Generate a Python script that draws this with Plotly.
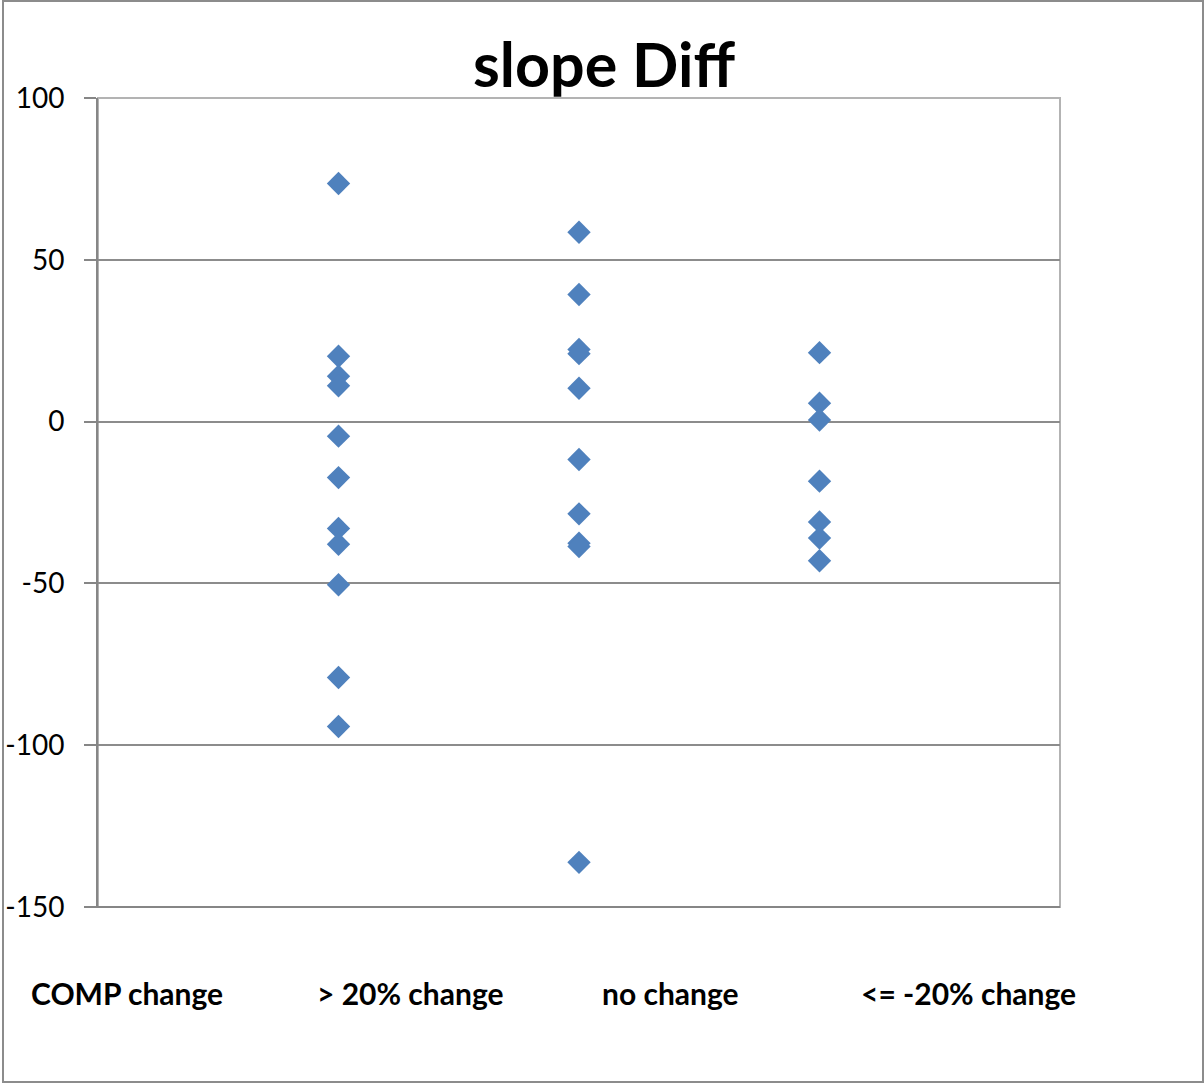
import plotly.graph_objects as go

# slope differences per group (x position 1, 2, 3 on a 0-4 axis)
over_20_change = [73.6, 20.2, 14.0, 11.1, -4.5, -17.3, -33.0, -37.9, -50.4, -79.1, -94.2]
no_change = [58.5, 39.3, 22.3, 21.0, 10.3, -11.7, -28.5, -37.6, -38.6, -136.2]
under_neg20_change = [21.3, 5.7, 0.5, -18.4, -31.0, -36.0, -43.0]

group_labels = ["COMP change", "> 20% change", "no change", "<= -20% change"]
y_tickvals = [-150, -100, -50, 0, 50, 100]
y_ticktext = ["-150", "-100", "-50", "0", "50", "100"]

FONT = "Lato, 'Open Sans', sans-serif"
BLUE = "#4F81BD"

groups = [over_20_change, no_change, under_neg20_change]
xs, ys = [], []
for i, vals in enumerate(groups, start=1):
    xs += [i] * len(vals)
    ys += vals

fig = go.Figure(go.Scatter(
    x=xs, y=ys,
    mode="markers",
    marker=dict(symbol="diamond", size=18, color=BLUE,
                line=dict(color=BLUE, width=0)),
    hoverinfo="y",
    showlegend=False,
))

fig.update_layout(
    width=1204, height=1084,
    paper_bgcolor="white",
    plot_bgcolor="white",
    margin=dict(l=98, r=144, t=98, b=177),
    font=dict(family=FONT, color="black"),
    xaxis=dict(
        range=[0, 4], showgrid=False, zeroline=False,
        showticklabels=False, ticks="",
        showline=False, automargin=False,
    ),
    yaxis=dict(
        range=[-150, 100], tickvals=y_tickvals, ticktext=y_ticktext,
        showgrid=True, gridcolor="#8c8c8c", gridwidth=1.5,
        zeroline=False, automargin=False,
        showline=True, linecolor="#868686", linewidth=2,
        ticks="outside", ticklen=12, tickcolor="#868686", tickwidth=2,
        ticklabelstandoff=14,
        tickfont=dict(size=28, family=FONT, color="black"),
    ),
)

# plot-area border (light) plus darker bottom axis line
fig.add_shape(type="rect", xref="paper", yref="paper", x0=0, x1=1, y0=0, y1=1,
              line=dict(color="#b3b3b3", width=2), layer="below")
fig.add_shape(type="line", xref="paper", yref="paper", x0=-0.0125, x1=1, y0=0, y1=0,
              line=dict(color="#868686", width=2))

# outer chart border
fig.add_shape(type="rect", xref="paper", yref="paper",
              x0=-95 / 962, x1=1 + 143 / 962, y0=-175 / 809, y1=1 + 97 / 809,
              line=dict(color="#8c8c8c", width=2))

fig.add_annotation(text="<b>slope Diff</b>", xref="paper", yref="paper",
                   x=(604 - 98) / 962, y=1 + (98 - 63) / 809,
                   xanchor="center", yanchor="middle", showarrow=False,
                   font=dict(size=61, family=FONT, color="black"))

label_x = [127, 410, 670, 968]
for lab, px in zip(group_labels, label_x):
    fig.add_annotation(text=f"<b>{lab}</b>", xref="paper", yref="paper",
                       x=(px - 98) / 962, y=-(993 - 907) / 809,
                       xanchor="center", yanchor="middle", showarrow=False,
                       font=dict(size=30, family=FONT, color="black"))

fig.write_html("out.html", config={"displayModeBar": False},
               post_script="document.body.style.margin='0';document.body.style.overflow='hidden';")
